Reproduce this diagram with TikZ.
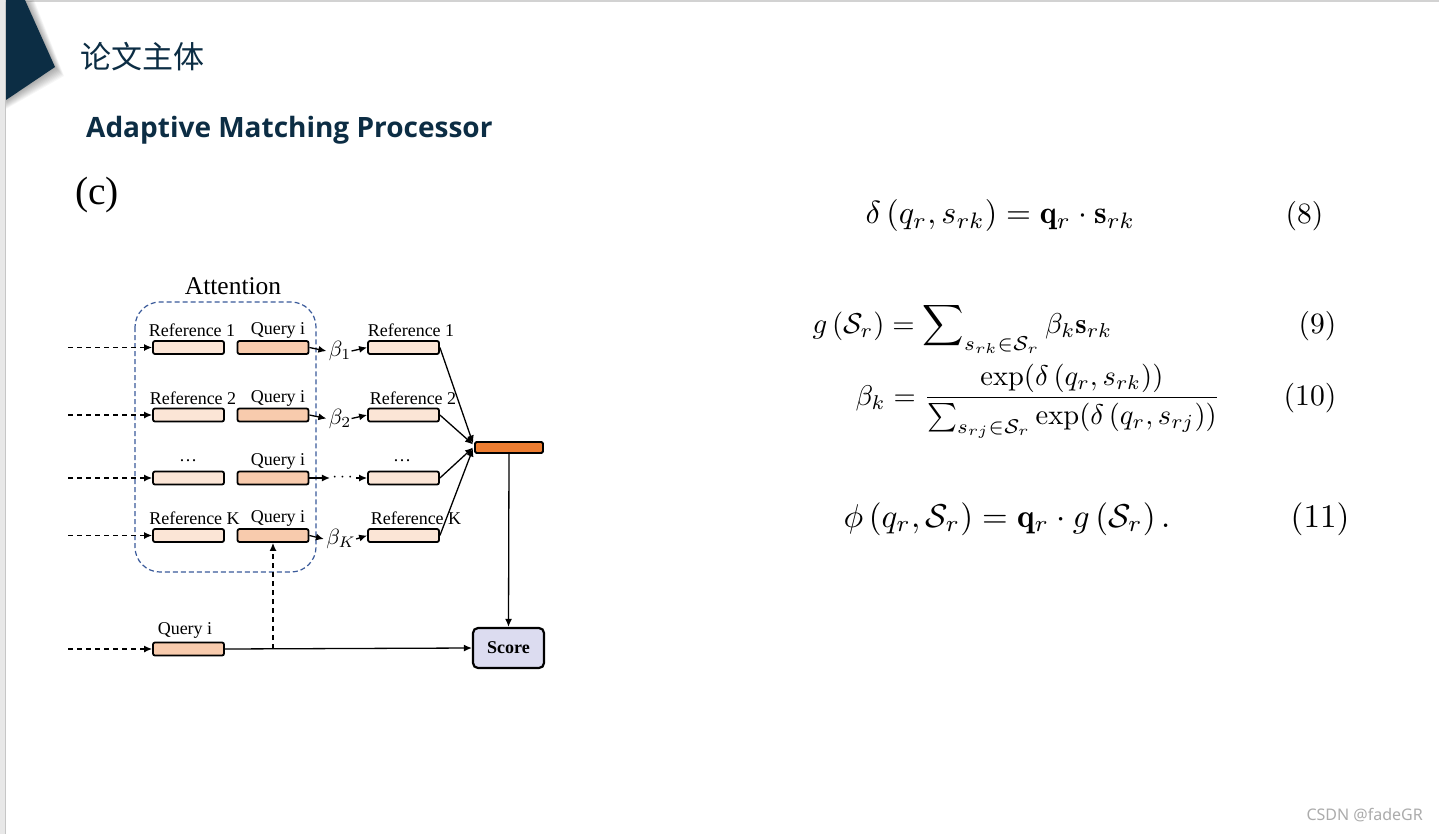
\documentclass[tikz,border=0pt]{standalone}
\usepackage{amsmath,amssymb}
\usepackage{fontspec}
\newfontfamily\cjk{Noto Sans CJK SC}
\newfontfamily\titlefont{Open Sans}
\newfontfamily\tms{Liberation Serif}
\newfontfamily\wmfont{Noto Sans}
\usetikzlibrary{arrows.meta,calc}
\definecolor{navy}{HTML}{0C2D44}
\definecolor{reffill}{HTML}{FBE5D6}
\definecolor{qfill}{HTML}{F8CBAD}
\definecolor{obar}{HTML}{ED7D31}
\definecolor{scfill}{HTML}{DCDCF0}
\definecolor{attblue}{HTML}{3A5A9A}
\tikzset{
  box/.style={draw=black, line width=1.8pt, rounded corners=2pt, minimum width=71pt, minimum height=13pt, inner sep=0pt},
  refbox/.style={box, fill=reffill},
  qbox/.style={box, fill=qfill},
  lbl/.style={font=\tms\fontsize{18}{18}\selectfont, inner sep=0pt},
  arr/.style={-{Latex[length=8pt,width=7pt]}, line width=1.3pt},
  darr/.style={arr, dash pattern=on 5pt off 4pt},
  beta/.style={inner sep=0pt, scale=2.2, transform shape},
  eq/.style={inner sep=0pt, anchor=base west, transform shape},
}
\begin{document}
\begin{tikzpicture}[x=1pt,y=-1pt]
\useasboundingbox (0,0) rectangle (1439,834);
\fill[white] (0,0) rectangle (1439,834);
% slide frame
\fill[gray!18] (0,0) rectangle (5,834);
\draw[gray!45, line width=1pt] (5,0) -- (5,834);
\fill[gray!35] (5,0) rectangle (1439,2);
% triangle with shadow
\foreach \i in {1,...,10}{
  \fill[black, opacity=0.035] ($(6,0)+(\i*0.6,\i*0.9)$) -- ($(25,0)+(\i*0.9,0)$) -- ($(55,67)+(\i*0.9,\i*0.9)$) -- ($(6,100)+(0,\i*0.9)$) -- cycle;
}
\fill[navy] (6,0) -- (25,0) -- (55,67) -- (6,100) -- cycle;
% titles
\node[anchor=west, inner sep=0pt, text=navy, font=\cjk\fontsize{31}{31}\selectfont] (t1) at (80,57) {论文主体};
\node[anchor=base west, inner sep=0pt, text=navy, font=\titlefont\bfseries\fontsize{28}{28}\selectfont] (t2) at (86,138) {Adaptive Matching Processor};
\node[anchor=base west, inner sep=0pt, font=\tms\fontsize{39.5}{39.5}\selectfont] (c) at (75,205) {(c)};
% attention box
\draw[attblue, line width=1.2pt, dash pattern=on 5pt off 3pt, rounded corners=25pt] (135,302) rectangle (316,572);
\node[inner sep=0pt, font=\tms\fontsize{25.5}{25.5}\selectfont] (att) at (233,286) {Attention};
% rows
\foreach \r/\y/\lt/\lx/\rt/\rx in {1/347.5/Reference 1/192/Reference 1/411, 2/415/Reference 2/193/Reference 2/413, 3/478/\dots/188/\dots/402, 4/535.5/Reference K/194.5/Reference K/416}{
  \coordinate (in\r) at (68,\y);
  \node[refbox] (l\r) at (188.5,\y) {};
  \node[qbox] (q\r) at (273,\y) {};
  \node[refbox] (r\r) at (403.5,\y) {};
  \node[lbl] (ll\r) at (\lx,\y-17) {\lt};
  \node[lbl] (ql\r) at (278,\y-17) {Query i};
  \node[lbl] (rl\r) at (\rx,\y-17) {\rt};
  \draw[darr] (in\r) -- (l\r.west);
}
\node[beta] (b1) at (340,351) {$\beta_1$};
\node[beta] (b2) at (340,418.5) {$\beta_2$};
\node[beta, scale=0.8] (b3) at (344,478) {$\cdots$};
\node[beta] (b4) at (341,539) {$\beta_K$};
\foreach \r in {1,2,3,4}{
  \draw[arr] (q\r.east) -- ($(b\r.west)+(-2,0)$);
  \draw[arr] (b\r.east) -- (r\r.west);
}
% orange bar and score
\node[draw=black, line width=1.8pt, fill=obar, rounded corners=1.5pt, minimum width=68pt, minimum height=11pt, inner sep=0pt] (ob) at (509,447.5) {};
\node[draw=black, line width=2.2pt, fill=scfill, rounded corners=5pt, minimum width=71pt, minimum height=40pt, inner sep=0pt, font=\tms\bfseries\fontsize{18}{18}\selectfont] (sc) at (508.5,648) {Score};
\draw[arr] (r1.east) -- ($(ob.west)+(-1,-4)$);
\draw[arr] (r2.east) -- ($(ob.west)+(-1,-3)$);
\draw[arr] (r3.east) -- ($(ob.west)+(-1,0)$);
\draw[arr] (r4.east) -- ($(ob.west)+(-1,1)$);
\draw[arr] (ob.south) -- (sc.north);
% bottom query
\coordinate (inb) at (68,649);
\node[qbox] (qb) at (188.5,649) {};
\node[lbl] (qbl) at (185,630) {Query i};
\draw[darr] (inb) -- (qb.west);
\draw[arr] (qb.east) -- (sc.west);
\draw[darr] (q4.south |- qb.east) -- (q4.south);
% equations
\node[eq, scale=3.2] (e8) at (865,224) {$\delta\left(q_r, s_{rk}\right) = \mathbf{q}_r \cdot \mathbf{s}_{rk}$};
\node[eq, scale=2.95] (n8) at (1285,224) {(8)};
\node[eq, scale=2.87] (e9) at (812,333) {$g\left(\mathcal{S}_r\right) = \displaystyle\sum\nolimits_{s_{rk}\in\mathcal{S}_r} \beta_k \mathbf{s}_{rk}$};
\node[eq, scale=2.95] (n9) at (1298,333) {(9)};
\node[eq, scale=2.85] (e10) at (855,405) {$\beta_k = \dfrac{\exp(\delta\left(q_r, s_{rk}\right))}{\sum\nolimits_{s_{rj}\in\mathcal{S}_r}\exp(\delta\left(q_r, s_{rj}\right))}$};
\node[eq, scale=2.97] (n10) at (1283,405) {(10)};
\node[eq, scale=3.3] (e11) at (843,527) {$\phi\left(q_r, \mathcal{S}_r\right) = \mathbf{q}_r \cdot g\left(\mathcal{S}_r\right).$};
\node[eq, scale=3.3] (n11) at (1290,527) {(11)};
% watermark
\node[anchor=east, inner sep=0pt, text=gray!65, font=\wmfont\fontsize{16}{16}\selectfont] (wm) at (1423,815) {CSDN @fadeGR};
\end{tikzpicture}
\end{document}
